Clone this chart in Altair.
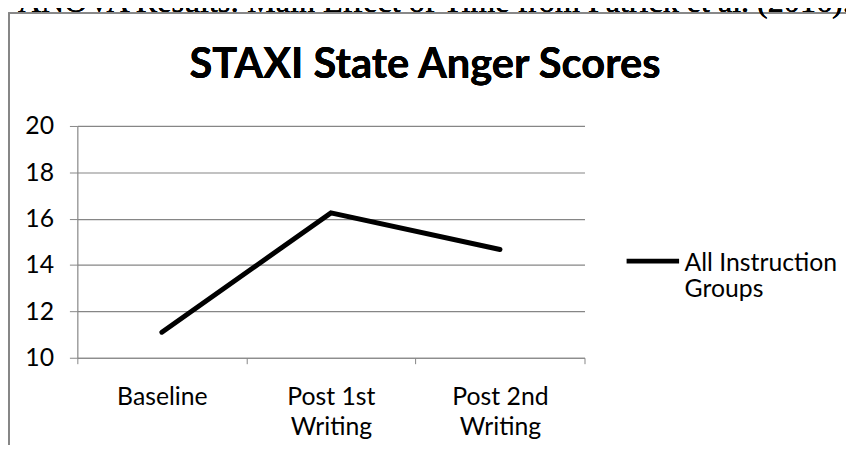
import altair as alt
import pandas as pd

# ---- data ----
categories = ["Baseline", "Post 1st Writing", "Post 2nd Writing"]
scores = [11.1, 16.25, 14.67]
series_name = "All Instruction Groups"
y_ticks = [10, 12, 14, 16, 18, 20]

caption = "ANOVA Results: Main Effect of Time from Patrick et al. (2016)."
chart_title = "STAXI State Anger Scores"

df = pd.DataFrame({"Time": categories, "Score": scores, "Group": [series_name] * len(categories)})

FONT = "Lato"
GRAY = "#868686"

line = (
    alt.Chart(df)
    .mark_line(strokeWidth=5, strokeCap="round", strokeJoin="miter")
    .encode(
        x=alt.X(
            "Time:N",
            sort=categories,
            scale=alt.Scale(type="band", paddingInner=0, paddingOuter=0),
            axis=alt.Axis(
                title=None,
                labelAngle=0,
                labelFont=FONT,
                labelFontSize=25,
                labelColor="black",
                labelPadding=21,
                labelLineHeight=30,
                labelBaseline="top",
                labelExpr="split(replace(datum.label, ' Writing', '|Writing'), '|')",
                tickBand="extent",
                tickSize=6,
                tickColor=GRAY,
                domainColor=GRAY,
                domainWidth=1.2,
                grid=False,
            ),
        ),
        y=alt.Y(
            "Score:Q",
            scale=alt.Scale(domain=[10, 20], nice=False, zero=False),
            axis=alt.Axis(
                title=None,
                values=y_ticks,
                labelFont=FONT,
                labelFontSize=25,
                labelColor="black",
                labelPadding=16,
                tickSize=8,
                tickColor=GRAY,
                domainColor=GRAY,
                domainWidth=1.2,
                gridColor=GRAY,
                gridWidth=1.2,
            ),
        ),
        color=alt.Color(
            "Group:N",
            scale=alt.Scale(range=["black"]),
            legend=alt.Legend(
                title=None,
                orient="none",
                legendX=552,
                legendY=117,
                padding=0,
                symbolType="M-1,-0.36L1,-0.36",
                symbolSize=2809,
                symbolStrokeWidth=5,
                symbolStrokeColor="black",
                symbolFillColor="transparent",
                labelFont=FONT,
                labelFontSize=25,
                labelColor="black",
                labelOffset=3,
                labelBaseline="alphabetic",
                labelLimit=300,
                labelExpr="split(replace(datum.label, ' Groups', '|Groups'), '|')",
            ),
        ),
    )
)

frame = alt.Chart(df).mark_rect(fill="transparent", stroke=GRAY, strokeWidth=1.6).encode(
    x=alt.value(-69), x2=alt.value(800), y=alt.value(-114), y2=alt.value(340)
)

caption_text = alt.Chart(df).mark_text(
    text=caption,
    font="Liberation Serif",
    fontSize=32.4,
    align="left",
    baseline="alphabetic",
    color="black",
).encode(x=alt.value(-60), y=alt.value(-115))

title_text = alt.Chart(df).mark_text(
    text=chart_title,
    font=FONT,
    fontSize=42,
    fontWeight="bold",
    align="center",
    baseline="alphabetic",
    color="black",
).encode(x=alt.value(351), y=alt.value(-48))

chart = (
    alt.layer(frame, caption_text, title_text, line)
    .properties(
        width=512,
        height=234,
        autosize=alt.AutoSizeParams(type="none"),
        padding={"left": 70, "top": 117, "right": 264, "bottom": 86},
    )
    .configure_view(stroke=None)
)

chart.save("out.html", embed_options={"renderer": "svg", "actions": False})
